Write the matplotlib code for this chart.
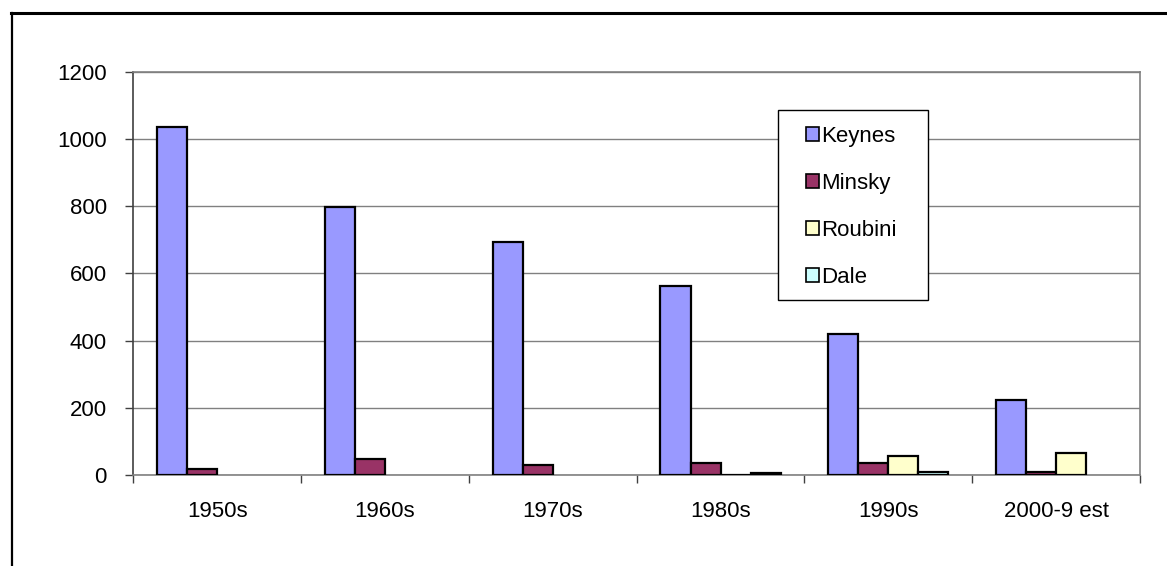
import matplotlib
matplotlib.use("Agg")
import matplotlib.pyplot as plt
from matplotlib.lines import Line2D
from matplotlib.patches import Rectangle
import numpy as np

plt.rcParams['font.family'] = ['Liberation Sans', 'DejaVu Sans']

decades = ["1950s", "1960s", "1970s", "1980s", "1990s", "2000-9 est"]
keynes = [1036, 797, 692, 563, 421, 222]
minsky = [17, 47, 29, 35, 36, 9]
roubini = [np.nan, np.nan, np.nan, -2, 56, 66]
dale = [np.nan, np.nan, np.nan, 5, 8, np.nan]
series_names = ["Keynes", "Minsky", "Roubini", "Dale"]
colors = ["#9999FF", "#993366", "#FFFFCC", "#CCFFFF"]
yticks = [0, 200, 400, 600, 800, 1000, 1200]

W, H = 1167, 566
FS = 16
fig = plt.figure(figsize=(W / 100, H / 100), dpi=100)
ax = fig.add_axes([133.3 / W, 1 - 475 / H, (1140 - 133.3) / W, (475 - 71.7) / H])

x = np.arange(len(decades))
bw = 0.179
data = [keynes, minsky, roubini, dale]
for i, (vals, c) in enumerate(zip(data, colors)):
    ax.bar(x - 1.5 * bw + i * bw, vals, width=bw, color=c, edgecolor="black",
           linewidth=1.6, label=series_names[i], zorder=3)

ax.set_xlim(-0.5, len(decades) - 0.5)
ax.set_ylim(0, 1200)
ax.set_yticks(yticks)
ax.set_yticklabels([str(v) for v in yticks])
ax.yaxis.grid(True, color="#808080", linewidth=1.0, zorder=0)
ax.set_axisbelow(True)

# major x ticks at group boundaries, labels at centers
ax.set_xticks(np.arange(-0.5, len(decades) + 0.5, 1.0))
ax.set_xticklabels([])
ax.set_xticks(x, minor=True)
ax.set_xticklabels(decades, minor=True)
ax.tick_params(axis="x", which="major", direction="out", length=6, width=1, color="#404040")
ax.tick_params(axis="x", which="minor", length=0, pad=19, labelsize=FS)
ax.tick_params(axis="y", direction="out", length=6, width=1, color="#404040", pad=13, labelsize=FS)

for s in ["top", "right", "bottom"]:
    ax.spines[s].set_color("#808080")
    ax.spines[s].set_linewidth(1.2)
ax.spines["left"].set_color("#404040")
ax.spines["left"].set_linewidth(1.2)

# legend frame (drawn separately) and legend entries
ax.add_patch(Rectangle((0.640, 0.434), 0.7894 - 0.640, 0.905 - 0.434,
                       transform=ax.transAxes, facecolor="white", edgecolor="black",
                       linewidth=1.0, zorder=4, clip_on=False))
leg = ax.legend(loc="upper left", bbox_to_anchor=(0.668, 0.866), fontsize=FS,
                frameon=False, handlelength=0.59, handleheight=0.55,
                handletextpad=0.12, labelspacing=1.17, borderpad=0,
                borderaxespad=0)
for h in leg.legend_handles:
    h.set_linewidth(1.2)
leg.set_zorder(5)

# outer frame (left and top edges)
fig.add_artist(Line2D([11.5 / W, 11.5 / W], [0, 1 - 13 / H], transform=fig.transFigure,
                      color="black", linewidth=1.6))
fig.add_artist(Line2D([11 / W, 1], [1 - 13 / H, 1 - 13 / H], transform=fig.transFigure,
                      color="black", linewidth=2.2))

fig.savefig("out.png", dpi=100)
